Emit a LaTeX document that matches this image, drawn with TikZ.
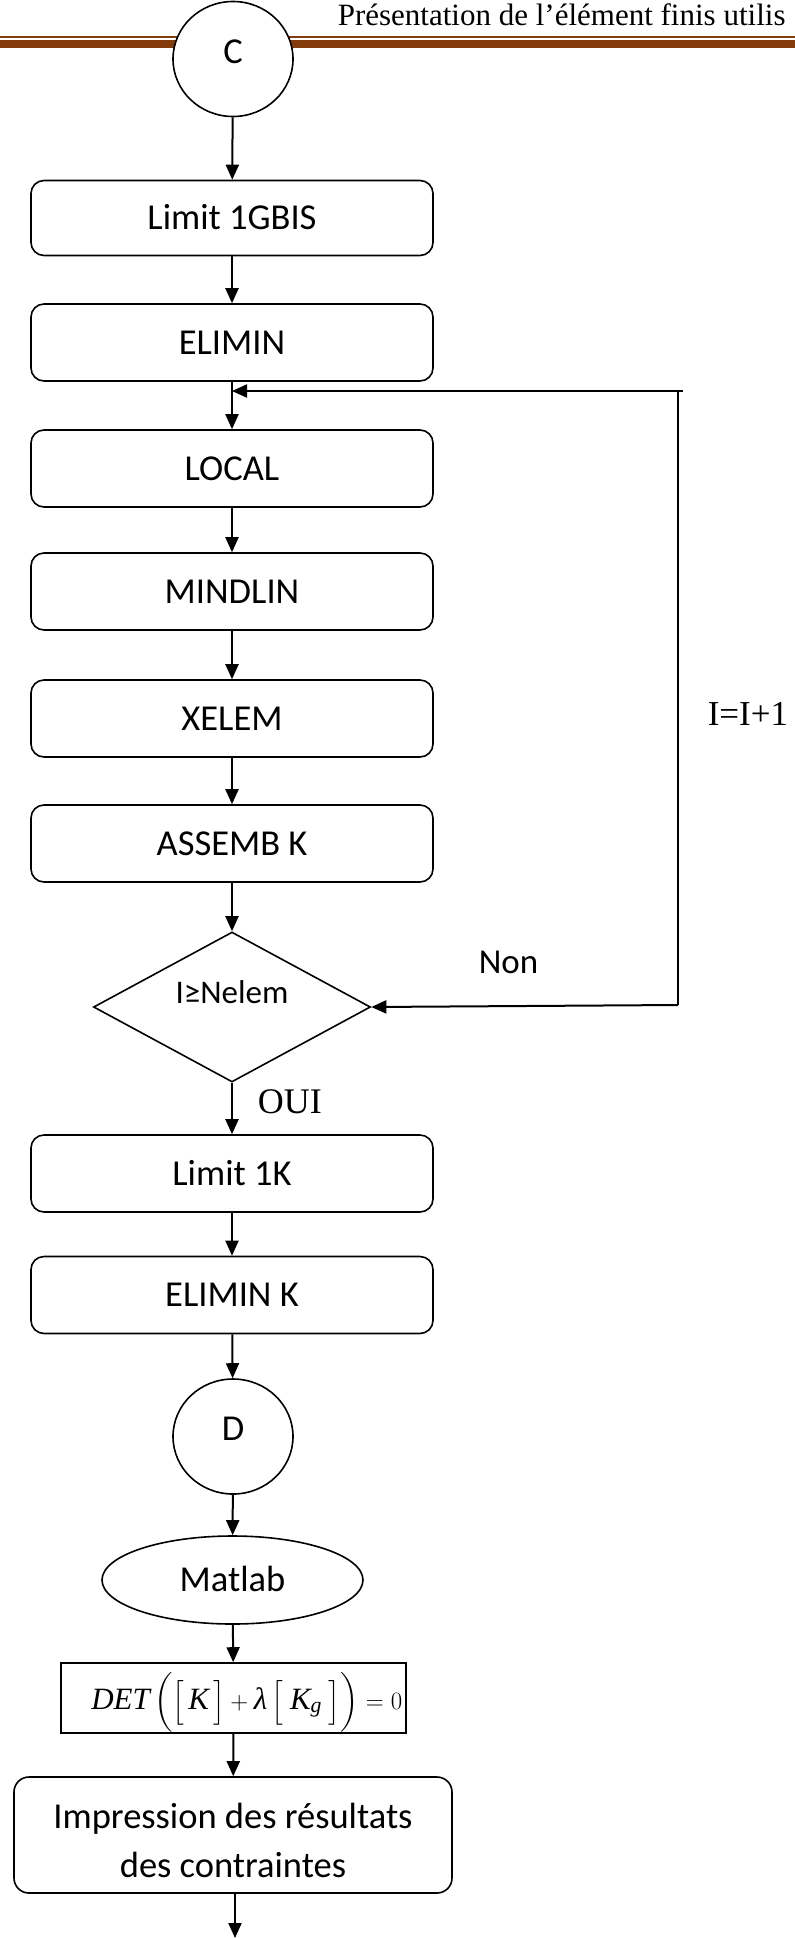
\documentclass[tikz,border=0pt]{standalone}
\usepackage{amsmath}
\usepackage{fontspec}
\setmainfont{Liberation Serif}
\newfontfamily\boxfont{Carlito}
\usetikzlibrary{shapes.geometric,arrows.meta}
\definecolor{headbrown}{HTML}{843C0C}

\begin{document}
\begin{tikzpicture}[x=1pt,y=-1pt,
  line width=1.6pt,
  box/.style={draw, rounded corners=13pt, minimum width=402pt, minimum height=77pt,
    inner sep=0pt, font=\boxfont\fontsize{36.5}{43}\selectfont, text height=23pt, text depth=0pt},
  conn/.style={draw, fill=white, ellipse, minimum width=120pt, minimum height=115pt, inner sep=0pt,
    font=\boxfont\fontsize{36.5}{43}\selectfont, text height=23pt, text depth=15pt},
  term/.style={draw, ellipse, minimum width=261pt, minimum height=88pt, inner sep=0pt,
    font=\boxfont\fontsize{36.5}{43}\selectfont, text height=23pt, text depth=0pt},
  decision/.style={draw, diamond, aspect=1.85, minimum width=277pt, minimum height=150pt, inner sep=0pt,
    font=\boxfont\fontsize{33}{38}\selectfont, text height=21pt, text depth=29pt},
  formulabox/.style={draw, rectangle, minimum width=345pt, minimum height=70pt, inner sep=0pt},
  arr/.style={line width=2pt, -{Triangle[length=15pt,width=13pt]}},
  plainline/.style={line width=2pt},
  lbl/.style={inner sep=0pt, anchor=base west}
]
\useasboundingbox (0,0) rectangle (795,1938);

% page header
\fill[headbrown] (0,36) rectangle (795,37.6);
\fill[headbrown] (0,39.6) rectangle (795,47.6);
\node[lbl, font=\fontsize{31}{36}\selectfont] (title) at (337,25) {Présentation de l’élément finis utilis};

% flowchart blocks
\node[conn] (C) at (233,59) {C};
\node[box, minimum height=75pt] (lim1) at (232,218) {Limit 1GBIS};
\node[box] (elim) at (232,342.5) {ELIMIN};
\node[box] (loc) at (232,468.5) {LOCAL};
\node[box] (mind) at (232,591.5) {MINDLIN};
\node[box] (xel) at (232,718.5) {XELEM};
\node[box] (ass) at (232,843.5) {ASSEMB K};
\node[decision] (test) at (232,1007) {I≥Nelem};
\node[box] (limk) at (232,1173.5) {Limit 1K};
\node[box] (elimk) at (232,1295) {ELIMIN K};
\node[conn] (D) at (233,1436.5) {D};
\node[term] (mat) at (232.5,1580) {Matlab};
\node[formulabox] (det) at (233.5,1698) {};
\node[inner sep=0pt, anchor=base east, font=\fontsize{31}{30}\selectfont] (detf) at (403,1709)
  {$\textit{DET}\,\bigg(\Big[\,\textit{K}\,\Big]+\textit{λ}\,\Big[\;\textit{K}_{\textit{g}}\;\Big]\bigg)=0$};
\node[box, minimum width=438pt, minimum height=116pt, rounded corners=15pt, align=center,
  font=\boxfont\fontsize{36.5}{49}\selectfont, text height=84pt, text depth=0pt] (imp) at (233,1835)
  {Impression des résultats\\des contraintes};

% loop labels
\node[lbl, font=\boxfont\fontsize{35}{40}\selectfont] (non) at (478,973) {Non};
\node[lbl, font=\fontsize{35}{40}\selectfont] (inc) at (707,725) {I=I+1};
\node[lbl, font=\fontsize{36}{40}\selectfont] (oui) at (257,1113) {OUI};

% main sequence
\draw[arr] (C) -- (lim1);
\draw[arr] (lim1) -- (elim);
\draw[arr] (elim) -- (loc);
\draw[arr] (loc) -- (mind);
\draw[arr] (mind) -- (xel);
\draw[arr] (xel) -- (ass);
\draw[arr] (ass) -- (test);
\draw[arr] (test) -- (limk);
\draw[arr] (limk) -- (elimk);
\draw[arr] (elimk) -- (D);
\draw[arr] (D) -- (mat);
\draw[arr] (mat) -- (det);
\draw[arr] (det) -- (imp);
\coordinate (out) at (235,1938);
\draw[arr] (imp.south -| out) -- (out);

% loop back: I = I + 1
\coordinate (join) at (232,391);
\coordinate (fbEnd) at (683,391);
\coordinate (fbTop) at (678,391);
\coordinate (fbBot) at (678,1005);
\draw[arr] (fbEnd) -- (join);
\draw[plainline] (fbTop) -- (fbBot);
\draw[arr] (fbBot) -- (test.east);
\end{tikzpicture}
\end{document}
